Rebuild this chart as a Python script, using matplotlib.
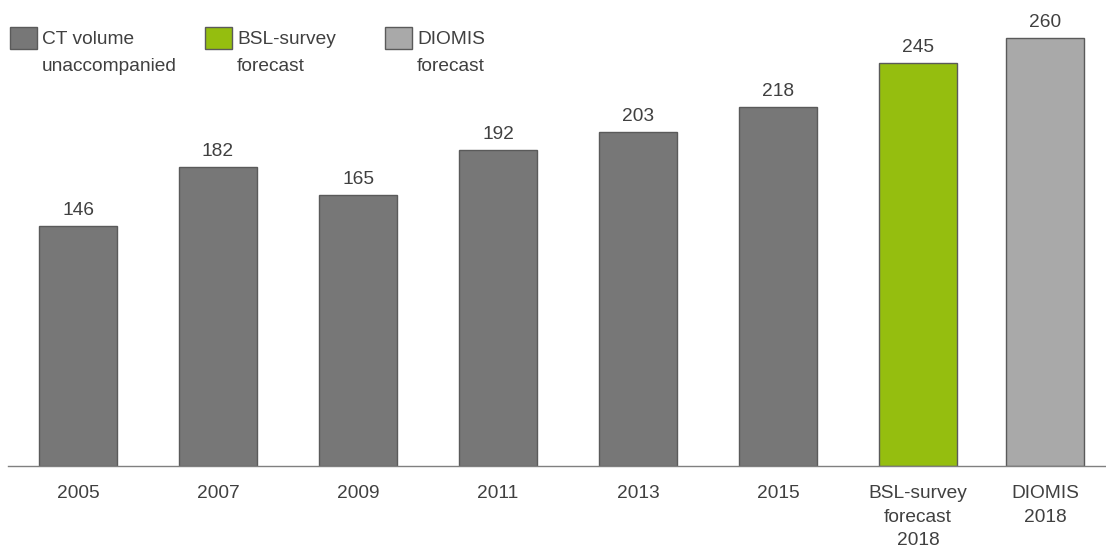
import numpy as np
import matplotlib.pyplot as plt

plt.rcParams['font.family'] = ['Liberation Sans', 'DejaVu Sans']

categories = ['2005', '2007', '2009', '2011', '2013', '2015',
              'BSL-survey\nforecast\n2018', 'DIOMIS\n2018']
values = [146, 182, 165, 192, 203, 218, 245, 260]
legend_labels = ['CT volume\nunaccompanied', 'BSL-survey\nforecast', 'DIOMIS\nforecast']

c_dark = '#777777'
c_green = '#95BE0F'
c_light = '#A9A9A9'
c_edge = '#5a5a5a'
c_text = '#404040'
colors = [c_dark] * 6 + [c_green, c_light]
fs = 13.8

W, H = 1106, 554
fig = plt.figure(figsize=(W / 100, H / 100), dpi=100)
base = 466
ax = fig.add_axes([8 / W, (H - base) / H, (W - 8) / W, base / H])

x = np.array([0, 1, 2, 3, 4, 5, 6.0, 6.91])
ax.bar(x, values, width=0.557, color=colors, edgecolor=c_edge, linewidth=1)

for xi, v in zip(x, values):
    ax.annotate(str(v), (xi, v), xytext=(0, 5), textcoords='offset points',
                ha='center', va='bottom', fontsize=fs, color=c_text)

ax.set_xlim(-0.5, (W - 78) / 140)
ax.set_ylim(0, base / 1.645)
ax.set_xticks(x)
ax.set_xticklabels(categories, fontsize=fs, color=c_text, linespacing=1.5)
ax.tick_params(axis='x', length=0, pad=14)
ax.set_yticks([])
for s in ['top', 'right', 'left']:
    ax.spines[s].set_visible(False)
ax.spines['bottom'].set_color('#808080')
ax.spines['bottom'].set_linewidth(1)

# legend drawn by hand in figure pixels
leg_x = [10, 205, 385]
for lx, lab, col in zip(leg_x, legend_labels, [c_dark, c_green, c_light]):
    fig.patches.append(plt.Rectangle((lx / W, (H - 49) / H), 27 / W, 22 / H,
                                     transform=fig.transFigure, facecolor=col,
                                     edgecolor=c_edge, linewidth=1))
    fig.text((lx + 32) / W, (H - 31) / H, lab, ha='left', va='top',
             fontsize=fs, color=c_text, linespacing=1.75)

fig.savefig('out.png', dpi=100)
